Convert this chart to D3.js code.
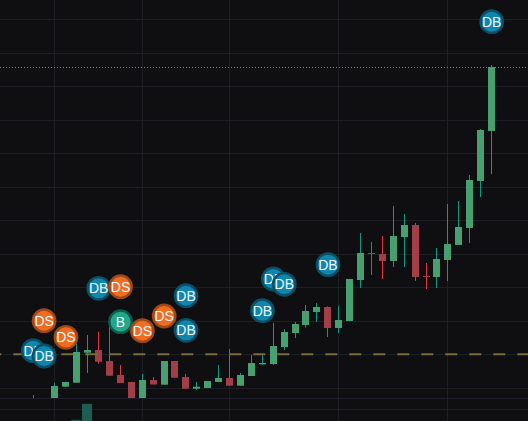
<!DOCTYPE html>
<html>
<head>
<meta charset="utf-8">
<script src="https://cdn.jsdelivr.net/npm/d3@7"></script>
<style>
  html, body { margin: 0; padding: 0; background: #0f0f12; }
  svg { display: block; }
</style>
</head>
<body>
<svg width="528" height="421"></svg>
<script>
// candle data, one entry per bar (index = bar number)
const opens  = [5.5, 6.0, 6.5, 10.33, 11.52, 20.48, 21.28, 18.0, 13.82, 11.73, 6.8, 12.33, 10.93, 18.0, 13.22, 9.73, 9.94, 11.73, 12.93, 10.63, 13.52, 17.01, 17.10, 22.18, 26.36, 28.75, 32.63, 34.12, 27.85, 29.94, 42.18, 50.24, 49.94, 47.85, 55.01, 58.60, 43.37, 43.07, 48.15, 52.63, 57.70, 71.73, 86.66];
const closes = [6.5, 6.6, 10.54, 11.73, 20.69, 21.28, 17.79, 13.61, 11.43, 6.5, 12.33, 10.99, 18.0, 13.01, 9.73, 10.33, 12.03, 12.93, 10.63, 13.82, 17.40, 17.40, 22.48, 26.66, 29.04, 32.93, 34.12, 27.85, 30.24, 42.48, 50.24, 49.94, 47.85, 55.31, 58.60, 43.07, 43.16, 48.45, 52.93, 58.0, 72.03, 86.96, 105.76];
const highs  = [7.85, 6.8, 11.52, 11.8, 23.22, 25.76, 26.75, 28.45, 16.81, 11.8, 14.12, 13.22, 18.0, 18.0, 14.12, 11.73, 12.03, 16.81, 21.58, 14.42, 19.79, 20.09, 29.34, 27.55, 29.64, 34.72, 35.31, 34.3, 34.42, 42.5, 56.21, 53.52, 55.31, 64.27, 61.88, 59.19, 47.25, 51.73, 64.87, 65.76, 73.52, 87.25, 106.36];
const lows   = [5.0, 5.2, 6.0, 10.3, 11.5, 14.42, 17.19, 13.6, 11.43, 6.0, 6.5, 11.0, 10.9, 13.01, 9.73, 9.34, 9.94, 11.73, 10.6, 10.6, 13.52, 16.81, 16.81, 21.28, 24.87, 27.94, 29.64, 25.16, 26.36, 29.9, 39.79, 43.67, 42.48, 46.06, 46.06, 41.88, 39.49, 39.79, 41.88, 52.6, 53.22, 66.96, 73.82];
const volumes = [12, 15, 30, 25, 48, 86, 40, 35, 20, 30, 28, 14, 22, 18, 16, 10, 12, 14, 20, 15, 18, 10, 26, 20, 18, 22, 15, 20, 16, 30, 34, 12, 16, 28, 20, 30, 12, 18, 24, 26, 36, 40, 44];

// trade markers
const markIdx   = [0, 1, 1, 3, 6, 8, 8, 10, 12, 14, 14, 21, 22, 23, 27, 42];
const markPrice = [21.07, 30.03, 19.49, 25.07, 39.70, 40.18, 29.73, 27.04, 31.43, 37.49, 27.16, 33.01, 42.48, 40.90, 46.75, 119.28];
const markLabel = ["DB", "DS", "DB", "DS", "DB", "DS", "B", "DS", "DS", "DB", "DB", "DB", "DB", "DB", "DB", "DB"];

// grid / levels
const timeGridIdx = [2, 10, 18, 28, 38];
const priceGrid = [10, 20, 30, 40, 50, 60, 70, 80, 90, 100, 110, 120];
const avgPrice = 20;

const W = 528, H = 421;
const paneBottom = 398;

const x = d3.scaleLinear().domain([0, 42]).range([32.5, 491.0]);
const y = d3.scaleLinear().domain([10, 120]).range([387.8, 19.3]);
const yv = d3.scaleLinear().domain([0, 100]).range([440, 398]);

const svg = d3.select("svg");
const bars = d3.range(opens.length).map(i => ({
  i, o: opens[i], c: closes[i], h: highs[i], l: lows[i], v: volumes[i], up: closes[i] >= opens[i]
}));

// background
svg.append("rect").attr("width", W).attr("height", H).attr("fill", "#0f0f12");

const defs = svg.append("defs");
defs.append("clipPath").attr("id", "main").append("rect")
  .attr("x", 0).attr("y", 0).attr("width", W).attr("height", paneBottom);
defs.append("clipPath").attr("id", "vol").append("rect")
  .attr("x", 0).attr("y", paneBottom + 1).attr("width", W).attr("height", H - paneBottom);

// grid
const grid = svg.append("g").attr("stroke", "#1e1f23").attr("stroke-width", 1);
grid.selectAll(".hg").data(priceGrid).join("line")
  .attr("x1", 0).attr("x2", W)
  .attr("y1", d => Math.round(y(d)) + 0.5).attr("y2", d => Math.round(y(d)) + 0.5);
grid.append("line").attr("x1", 0).attr("x2", W).attr("y1", 409.5).attr("y2", 409.5);
grid.selectAll(".vg").data(timeGridIdx).join("line")
  .attr("y1", 0).attr("y2", H)
  .attr("x1", d => Math.round(x(d)) + 0.5).attr("x2", d => Math.round(x(d)) + 0.5);

// pane separator
svg.append("line").attr("x1", 0).attr("x2", W).attr("y1", paneBottom + 0.5).attr("y2", paneBottom + 0.5)
  .attr("stroke", "#1f1e2c");

// volume
svg.append("g").attr("clip-path", "url(#vol)")
  .selectAll("rect").data(bars).join("rect")
  .attr("x", d => Math.round(x(d.i)) - 5)
  .attr("width", 10)
  .attr("y", d => yv(d.v))
  .attr("height", d => yv(0) - yv(d.v))
  .attr("fill", d => d.up ? "#1c5d54" : "#5a2a30");

// last price line
svg.append("line")
  .attr("x1", 0).attr("x2", W)
  .attr("y1", Math.round(y(closes[closes.length - 1])) + 0.5)
  .attr("y2", Math.round(y(closes[closes.length - 1])) + 0.5)
  .attr("stroke", "#5d948d").attr("stroke-width", 1).attr("stroke-dasharray", "1 2");

// candles
const main = svg.append("g").attr("clip-path", "url(#main)");
const candle = main.selectAll(".c").data(bars).join("g");
candle.append("line")
  .attr("x1", d => Math.round(x(d.i)) + 0.5).attr("x2", d => Math.round(x(d.i)) + 0.5)
  .attr("y1", d => y(d.h)).attr("y2", d => y(d.l))
  .attr("stroke", d => d.up ? "#0f9a80" : "#e8333f").attr("stroke-width", 1);
candle.append("rect")
  .attr("x", d => Math.round(x(d.i)) - 3)
  .attr("width", 7)
  .attr("y", d => y(Math.max(d.o, d.c)))
  .attr("height", d => Math.max(1, Math.abs(y(d.o) - y(d.c))))
  .attr("fill", d => d.up ? "#48a070" : "#a23e48");

// average price line
main.append("line")
  .attr("x1", -10.7).attr("x2", W)
  .attr("y1", y(avgPrice)).attr("y2", y(avgPrice))
  .attr("stroke", "#7b6a3e").attr("stroke-width", 2).attr("stroke-dasharray", "12 12");

// markers
const markColors = {
  DB: { fill: "#1085ad", ring: "#0b4f66" },
  DS: { fill: "#f06c22", ring: "#9e4818" },
  B:  { fill: "#20a889", ring: "#0e5a4b" }
};
const markers = markIdx.map((d, k) => ({ i: d, p: markPrice[k], t: markLabel[k] }));
const mk = svg.append("g").selectAll("g").data(markers).join("g")
  .attr("transform", d => `translate(${x(d.i) + 0.7},${y(d.p)})`);
mk.append("circle")
  .attr("r", 11.2)
  .attr("fill", d => markColors[d.t].fill)
  .attr("stroke", d => markColors[d.t].ring)
  .attr("stroke-width", 2.4);
mk.append("text")
  .attr("text-anchor", "middle")
  .attr("dy", "0.36em")
  .attr("font-family", "Liberation Sans, Arial, sans-serif")
  .attr("font-size", 14)
  .attr("fill", "#eef6f8")
  .text(d => d.t);
</script>
</body>
</html>
